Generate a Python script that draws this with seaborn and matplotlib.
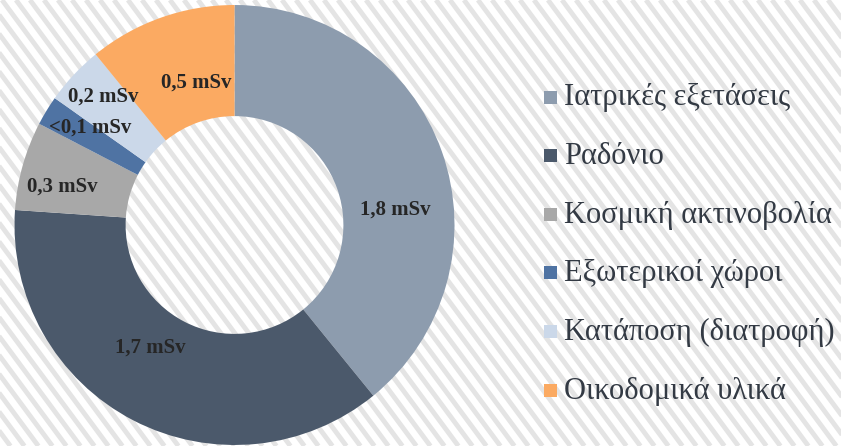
import numpy as np
import matplotlib
matplotlib.use("Agg")
import matplotlib.pyplot as plt
import seaborn as sns

# Annual dose by source (mSv)
categories = ["Ιατρικές εξετάσεις", "Ραδόνιο", "Κοσμική ακτινοβολία",
              "Εξωτερικοί χώροι", "Κατάποση (διατροφή)", "Οικοδομικά υλικά"]
doses = [1.8, 1.7, 0.3, 0.1, 0.2, 0.5]
value_labels = ["1,8 mSv", "1,7 mSv", "0,3 mSv", "<0,1 mSv", "0,2 mSv", "0,5 mSv"]

sns.set_theme(style="white")
plt.rcParams["font.family"] = ["Liberation Serif", "DejaVu Serif"]

palette = sns.color_palette(["#8d9cae", "#4b596b", "#a8a8a8",
                             "#4f73a3", "#cbd8e9", "#fbaa62"])

W, H, DPI = 841, 446, 100
fig = plt.figure(figsize=(W / DPI, H / DPI), dpi=DPI)
fig.patch.set_facecolor("white")

# Background with diagonal hatching, in pixel units
bg = fig.add_axes([0, 0, 1, 1], zorder=0)
bg.set_xlim(0, W)
bg.set_ylim(H, 0)
bg.axis("off")
step = 14
for x0 in np.arange(-H, W + step, step):
    bg.plot([x0, x0 + H / 1.35], [0, H], color="#e4e4e4", lw=3.5,
            solid_capstyle="butt", zorder=0)

# Donut
cx, cy, R = 234.5, 225.0, 220.0
ax = fig.add_axes([(cx - R) / W, (H - cy - R) / H, 2 * R / W, 2 * R / H], zorder=1)
ax.patch.set_alpha(0)
ax.pie(doses, colors=palette, startangle=90, counterclock=False, radius=1,
       wedgeprops=dict(width=0.505, linewidth=0))
ax.set_xlim(-1, 1)
ax.set_ylim(-1, 1)
ax.set_aspect("equal")
ax.axis("off")

# Value label anchors (pixel positions on the figure)
label_px = [(395, 210), (150, 348), (62, 187), (90, 128), (103, 97), (196, 83)]
for text, (px, py) in zip(value_labels, label_px):
    ax.text((px - cx) / R, (cy - py) / R, text, ha="center", va="center",
            fontsize=15, fontweight="bold", color="#262626")

# Legend
leg_y0, leg_dy = 97, 58.6
for i, (name, col) in enumerate(zip(categories, palette)):
    y = leg_y0 + i * leg_dy
    bg.add_patch(plt.Rectangle((544, y - 6.5), 13, 13, color=col, lw=0, zorder=2))
    bg.text(564, y + 1, name, ha="left", va="center", fontsize=22,
            color="#333a44", zorder=3)

fig.savefig("out.png", dpi=DPI)
